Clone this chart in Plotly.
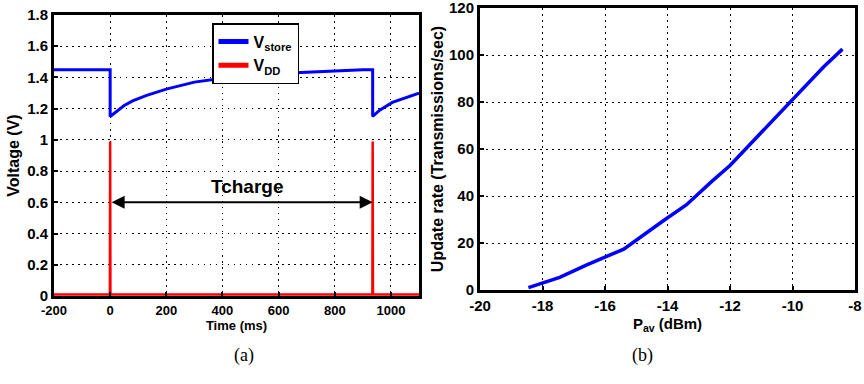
import plotly.graph_objects as go

# (a) storage capacitor and supply voltage versus time
t_store = [-200, 0, 0, 20, 50, 80, 130, 200, 300, 400, 500, 600, 700, 800, 900, 935, 935, 960, 1005, 1050, 1100]
v_store = [1.45, 1.45, 1.15, 1.18, 1.22, 1.25, 1.285, 1.325, 1.37, 1.395, 1.415, 1.425, 1.435, 1.442, 1.45, 1.45, 1.15, 1.19, 1.24, 1.27, 1.30]

t_dd = [-200, -1, 0, 1, 934, 935, 936, 1100]
v_dd = [0.01, 0.01, 0.99, 0.01, 0.01, 0.99, 0.01, 0.01]

t_ticks = [-200, 0, 200, 400, 600, 800, 1000]
v_ticks = [0, 0.2, 0.4, 0.6, 0.8, 1, 1.2, 1.4, 1.6, 1.8]

# charge interval marker
tcharge_start = 0
tcharge_end = 935
tcharge_level = 0.6

# (b) update rate versus available power
p_av = [-18.45, -17.45, -16.6, -15.4, -14.1, -13.4, -12.6, -12.0, -11.5, -11.0, -10.5, -10.0, -9.5, -9.0, -8.4]
rate = [1.0, 5.4, 10.6, 17.4, 29.8, 36.2, 46.0, 53.0, 60.0, 67.0, 74.5, 81.5, 88.3, 95.0, 102.5]

p_ticks = [-20, -18, -16, -14, -12, -10, -8]
rate_ticks = [0, 20, 40, 60, 80, 100, 120]

FONT = "Liberation Sans, Arial, sans-serif"
SERIF = "Liberation Serif, Times New Roman, serif"
GRID_DASH = "1.5px,4.5px"


def fmt(v):
    return ("%g" % v).replace("\u2212", "-")


def bold(size):
    return dict(family=FONT, size=size, color="black", weight="bold")


fig = go.Figure()

fig.add_trace(go.Scatter(
    x=t_store, y=v_store, mode="lines", showlegend=False,
    line=dict(color="#0000ff", width=3), xaxis="x", yaxis="y",
))
fig.add_trace(go.Scatter(
    x=t_dd, y=v_dd, mode="lines", showlegend=False,
    line=dict(color="#ff0000", width=2.5), xaxis="x", yaxis="y",
))
# legend entries with heavier line samples
fig.add_trace(go.Scatter(
    x=[None], y=[None], mode="lines", name="V<sub>store</sub>",
    line=dict(color="#0000ff", width=5), xaxis="x", yaxis="y",
))
fig.add_trace(go.Scatter(
    x=[None], y=[None], mode="lines", name="V<sub>DD</sub>",
    line=dict(color="#ff0000", width=5), xaxis="x", yaxis="y",
))
fig.add_trace(go.Scatter(
    x=p_av, y=rate, mode="lines", showlegend=False,
    line=dict(color="#0000ff", width=3.5), xaxis="x2", yaxis="y2",
))

axis_common = dict(
    showline=True, linecolor="black", linewidth=3, mirror=True,
    showgrid=True, gridcolor="black", gridwidth=1, griddash=GRID_DASH,
    ticks="inside", ticklen=4, tickwidth=1.5, tickcolor="black",
    zeroline=False, automargin=False, ticklabeloverflow="allow",
    tickfont=bold(15),
)

fig.update_layout(
    width=864, height=384,
    margin=dict(l=0, r=0, t=0, b=0),
    paper_bgcolor="white", plot_bgcolor="white",
    showlegend=True,
    legend=dict(
        x=212 / 864, y=1 - 23 / 384, xanchor="left", yanchor="top",
        bgcolor="white", bordercolor="black", borderwidth=1.5,
        font=bold(16), itemwidth=30, tracegroupgap=0,
    ),
    xaxis=dict(
        axis_common, domain=[54 / 864, 419 / 864], anchor="y",
        range=[-200, 1100], tickvals=t_ticks, ticktext=[fmt(v) for v in t_ticks],
        tickfont=bold(13),
        title=dict(text="Time (ms)", standoff=3, font=bold(13)),
    ),
    yaxis=dict(
        axis_common, domain=[1 - 296 / 384, 1 - 15 / 384], anchor="x",
        range=[0, 1.8], tickvals=v_ticks, ticktext=[fmt(v) for v in v_ticks],
        title=dict(text="Voltage (V)", standoff=4, font=bold(16)),
    ),
    xaxis2=dict(
        axis_common, domain=[480 / 864, 855 / 864], anchor="y2",
        range=[-20, -8], tickvals=p_ticks, ticktext=[fmt(v) for v in p_ticks],
        title=dict(text="P<sub>av</sub> (dBm)", standoff=6, font=bold(15)),
    ),
    yaxis2=dict(
        axis_common, domain=[1 - 290 / 384, 1 - 8 / 384], anchor="x2",
        range=[0, 120], tickvals=rate_ticks, ticktext=[fmt(v) for v in rate_ticks],
        title=dict(text="Update rate (Transmissions/sec)", standoff=2, font=bold(16)),
    ),
)

# double-headed arrow spanning the charge interval
fig.add_annotation(
    x=tcharge_end, y=tcharge_level, ax=tcharge_start, ay=tcharge_level,
    xref="x", yref="y", axref="x", ayref="y",
    showarrow=True, arrowhead=2, startarrowhead=2, arrowside="end+start",
    arrowsize=1.3, startarrowsize=1.3, arrowwidth=2, arrowcolor="black", text="",
)
fig.add_annotation(
    x=(tcharge_start + tcharge_end) / 2 + 20, y=0.7, xref="x", yref="y",
    text="Tcharge", showarrow=False, font=bold(19),
)

# panel captions
fig.add_annotation(x=232 / 864, y=1 - 368 / 384, xref="paper", yref="paper",
                   text="(a)", showarrow=False,
                   font=dict(family=SERIF, size=18, color="black"))
fig.add_annotation(x=655 / 864, y=1 - 368 / 384, xref="paper", yref="paper",
                   text="(b)", showarrow=False,
                   font=dict(family=SERIF, size=18, color="black"))

fig.write_html("out.html")
